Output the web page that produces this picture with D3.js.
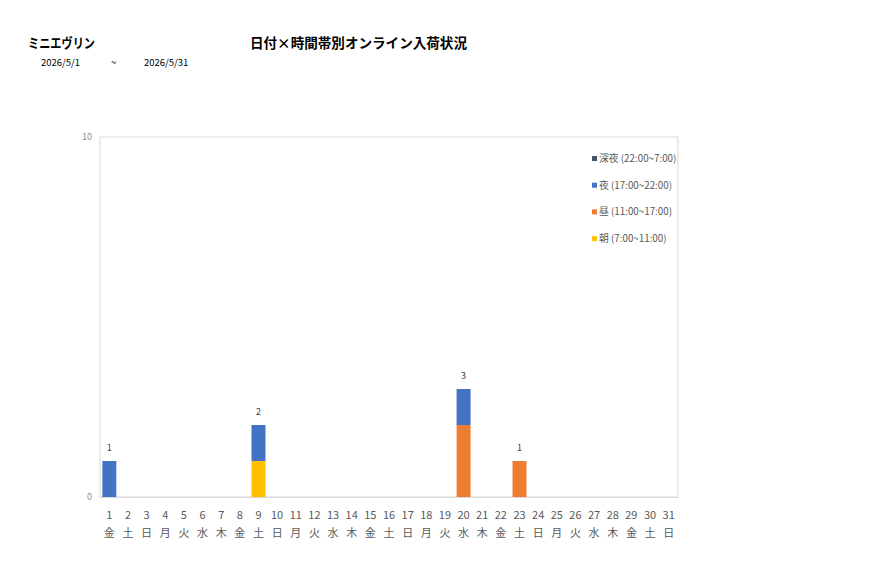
<!DOCTYPE html>
<html>
<head>
<meta charset="utf-8">
<script src="https://cdn.jsdelivr.net/npm/d3@7"></script>
<style>
  body { margin: 0; background: #fff; font-family: "Noto Sans CJK JP", "Noto Sans", sans-serif; }
</style>
</head>
<body>
<div id="chart"></div>
<script>
// data
const days = d3.range(1, 32);
const weekdays = ["金","土","日","月","火","水","木","金","土","日","月","火","水","木","金","土","日","月","火","水","木","金","土","日","月","火","水","木","金","土","日"];
const asa    = [0,0,0,0,0,0,0,0,1,0,0,0,0,0,0,0,0,0,0,0,0,0,0,0,0,0,0,0,0,0,0];
const hiru   = [0,0,0,0,0,0,0,0,0,0,0,0,0,0,0,0,0,0,0,2,0,0,1,0,0,0,0,0,0,0,0];
const yoru   = [1,0,0,0,0,0,0,0,1,0,0,0,0,0,0,0,0,0,0,1,0,0,0,0,0,0,0,0,0,0,0];
const shinya = [0,0,0,0,0,0,0,0,0,0,0,0,0,0,0,0,0,0,0,0,0,0,0,0,0,0,0,0,0,0,0];
const yTicks = [0, 10];

const seriesKeys = ["asa", "hiru", "yoru", "shinya"];
const seriesNames = {
  asa: "朝 (7:00~11:00)",
  hiru: "昼 (11:00~17:00)",
  yoru: "夜 (17:00~22:00)",
  shinya: "深夜 (22:00~7:00)"
};
const colors = { asa: "#FFC000", hiru: "#ED7D31", yoru: "#4472C4", shinya: "#44546A" };

const table = days.map((d, i) => ({
  day: d, wd: weekdays[i],
  asa: asa[i], hiru: hiru[i], yoru: yoru[i], shinya: shinya[i]
}));

const width = 877, height = 578;
const plot = { left: 100, right: 678, top: 137, bottom: 497 };

const svg = d3.select("#chart").append("svg")
  .attr("width", width)
  .attr("height", height);

// titles
svg.append("text").attr("x", 28).attr("y", 48)
  .attr("font-size", 13.5).attr("font-weight", "bold").attr("fill", "#000")
  .attr("textLength", 67).attr("lengthAdjust", "spacingAndGlyphs")
  .text("ミニエヴリン");
svg.append("text").attr("x", 250).attr("y", 48)
  .attr("font-size", 13.5).attr("font-weight", "bold").attr("fill", "#000")
  .attr("textLength", 217).attr("lengthAdjust", "spacingAndGlyphs")
  .text("日付×時間帯別オンライン入荷状況");
svg.append("text").attr("x", 41).attr("y", 66).attr("font-size", 9.5).attr("fill", "#000").text("2026/5/1");
svg.append("text").attr("x", 111).attr("y", 66).attr("font-size", 9.5).attr("fill", "#000").text("~");
svg.append("text").attr("x", 144).attr("y", 66).attr("font-size", 9.5).attr("fill", "#000").text("2026/5/31");

// scales
const x = d3.scaleBand()
  .domain(days)
  .range([plot.left, plot.right])
  .paddingInner(0.25)
  .paddingOuter(0.125);

const y = d3.scaleLinear()
  .domain([0, 10])
  .range([plot.bottom, plot.top]);

// plot frame
svg.append("rect")
  .attr("x", plot.left).attr("y", plot.top)
  .attr("width", plot.right - plot.left).attr("height", plot.bottom - plot.top)
  .attr("fill", "none").attr("stroke", "#d9d9d9").attr("stroke-width", 1);

// y axis labels
svg.append("g").selectAll("text")
  .data(yTicks).enter().append("text")
  .attr("x", 92).attr("y", d => y(d) + 3)
  .attr("text-anchor", "end")
  .attr("font-size", 9).attr("fill", "#8c8c8c")
  .text(d => d);

// stacked bars
const stacked = d3.stack().keys(seriesKeys)(table);
svg.append("g").selectAll("g")
  .data(stacked).enter().append("g")
  .attr("fill", s => colors[s.key])
  .selectAll("rect")
  .data(s => s.filter(p => p[1] > p[0])).enter().append("rect")
  .attr("x", p => x(p.data.day))
  .attr("y", p => y(p[1]))
  .attr("width", x.bandwidth())
  .attr("height", p => y(p[0]) - y(p[1]));

// bottom baseline
svg.append("line")
  .attr("x1", plot.left).attr("x2", plot.right)
  .attr("y1", plot.bottom + 0.5).attr("y2", plot.bottom + 0.5)
  .attr("stroke", "#d9d9d9");

// totals above bars
svg.append("g").selectAll("text")
  .data(table.filter(d => d.asa + d.hiru + d.yoru + d.shinya > 0)).enter().append("text")
  .attr("x", d => x(d.day) + x.bandwidth() / 2)
  .attr("y", d => y(d.asa + d.hiru + d.yoru + d.shinya) - 10)
  .attr("text-anchor", "middle")
  .attr("font-size", 9).attr("fill", "#404040")
  .text(d => d.asa + d.hiru + d.yoru + d.shinya);

// x labels: day + weekday
const xl = svg.append("g");
xl.selectAll(".dnum").data(table).enter().append("text")
  .attr("x", d => x(d.day) + x.bandwidth() / 2)
  .attr("y", 519)
  .attr("text-anchor", "middle")
  .attr("font-size", 11).attr("fill", "#595959")
  .text(d => d.day);
xl.selectAll(".wd").data(table).enter().append("text")
  .attr("x", d => x(d.day) + x.bandwidth() / 2)
  .attr("y", 537)
  .attr("text-anchor", "middle")
  .attr("font-size", 11).attr("fill", "#595959")
  .text(d => d.wd);

// legend
const legendOrder = ["shinya", "yoru", "hiru", "asa"];
const lg = svg.append("g").selectAll("g")
  .data(legendOrder).enter().append("g")
  .attr("transform", (d, i) => `translate(592, ${160 + i * 26.7})`);
lg.append("rect").attr("x", 0).attr("y", -4).attr("width", 5).attr("height", 5)
  .attr("fill", d => colors[d]);
lg.append("text").attr("x", 7).attr("y", 2)
  .attr("font-size", 9.8).attr("fill", "#595959")
  .text(d => seriesNames[d]);
</script>
</body>
</html>
